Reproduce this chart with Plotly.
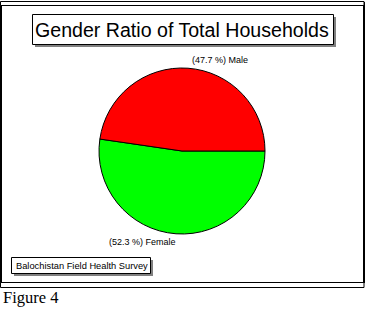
import plotly.graph_objects as go

labels = ["Female", "Male"]
values = [52.3, 47.7]
colors = ["#00FF00", "#FF0000"]
title_text = "Gender Ratio of Total Households"
source_text = "Balochistan Field Health Survey"
caption_text = "Figure 4"

W, H = 367, 309

def px(x):
    return x / W

def py(y):
    return 1 - y / H

fig = go.Figure()
fig.add_trace(go.Pie(
    labels=labels, values=values, sort=False,
    direction="clockwise", rotation=90,
    marker=dict(colors=colors, line=dict(color="black", width=1)),
    textinfo="none", hoverinfo="label+percent", showlegend=False,
    domain=dict(x=[px(99), px(265)], y=[py(234), py(68)]),
))

shapes = []
def rect(x0, y0, x1, y1, fill="white", line="black", lw=1):
    shapes.append(dict(type="rect", xref="paper", yref="paper",
                       x0=px(x0), x1=px(x1), y0=py(y1), y1=py(y0),
                       fillcolor=fill, line=dict(color=line, width=lw)))

# outer frame: side borders
shapes.append(dict(type="line", xref="paper", yref="paper", x0=px(1), x1=px(1), y0=py(5), y1=py(283), line=dict(color="black", width=2)))
shapes.append(dict(type="line", xref="paper", yref="paper", x0=px(364), x1=px(364), y0=py(2), y1=py(283), line=dict(color="black", width=2)))
# top and bottom bars
rect(0.5, 1.5, 364, 5.5)
rect(0.5, 282.5, 364, 287.5)
# title box with shadow
rect(35, 17, 336, 47, fill="#808080", line="#808080", lw=0)
rect(32.5, 14.5, 333.5, 44.5)
# source box with shadow
rect(14, 260, 153, 276, fill="#808080", line="#808080", lw=0)
rect(11.5, 257.5, 150.5, 273.5)

annotations = [
    dict(text=title_text, x=px(182), y=py(29.5), xref="paper", yref="paper",
         showarrow=False, font=dict(family="Liberation Sans, Arial", size=19.6, color="black"),
         xanchor="center", yanchor="middle"),
    dict(text=source_text, x=px(14), y=py(265.5), xref="paper", yref="paper",
         showarrow=False, font=dict(family="Liberation Sans, Arial", size=9.3, color="black"),
         xanchor="left", yanchor="middle"),
    dict(text=caption_text, x=px(1), y=py(297.5), xref="paper", yref="paper",
         showarrow=False, font=dict(family="Liberation Serif, Times New Roman", size=16.5, color="black"),
         xanchor="left", yanchor="middle"),
]
label_pos = {"Male": (190, 59.5), "Female": (107, 241.5)}
for lab, val in zip(labels, values):
    lx, ly = label_pos[lab]
    annotations.append(dict(text=f"({val:.1f} %) {lab}", x=px(lx), y=py(ly),
                            xref="paper", yref="paper", showarrow=False,
                            font=dict(family="Liberation Sans, Arial", size=9, color="black"),
                            xanchor="left", yanchor="middle"))

fig.update_layout(width=W, height=H, margin=dict(l=0, r=0, t=0, b=0),
                  paper_bgcolor="white", plot_bgcolor="white",
                  shapes=shapes, annotations=annotations)
fig.write_html("out.html")
